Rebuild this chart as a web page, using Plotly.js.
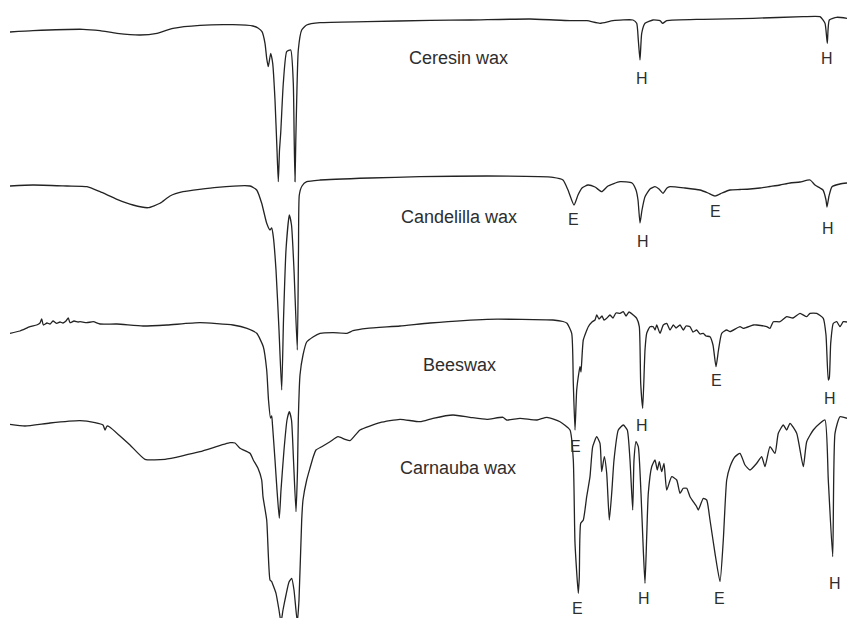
<!DOCTYPE html>
<html>
<head>
<meta charset="utf-8">
<script src="https://cdn.plot.ly/plotly-3.0.1.min.js"></script>
<style>html,body{margin:0;padding:0;background:#fff;}#chart{width:847px;height:618px;}</style>
</head>
<body>
<div id="chart"></div>
<script>
// Spectra (x: position along spectrum, y: trace level, downward = absorption)
const ceresinX = [10,33,83,100,117,140,157,173,200,233,253,258,262,265,266.7,268.3,270.7,272.7,275,277,278.3,279.5,280.7,283.3,286.7,290.7,293.3,294.2,295,295.8,296.7,298.3,301.7,306.7,320,367,430,470,530,570,587,600,613,633,636.7,638.3,640,641.7,645,653,660,662.7,666.7,703,753,803,820,825,827.3,829.3,836.7,847];
const ceresinY = [32,30.7,29.3,30.7,33.3,35,33.3,28.3,25.3,24.7,26,28,31.7,43.3,58.3,66.7,53.3,63.3,100,150,181.7,150,133.3,83.3,51.7,50,83.3,140,181.7,140,100,50,30,25,22.7,21.7,20.3,20,19,20.7,20.7,23.3,20.7,20,23.3,40,60,33.3,23.3,20,20.7,23.3,20.7,19.3,18.3,16.7,16.7,23.3,43.3,20,17.3,18.3];

const candelillaX = [10,33,67,87,100,117,133,148,160,170,183,217,250,256.7,261.7,266.7,270,271.7,273.3,276,279,281.7,283.5,286,289.3,291.5,294,297.3,298.5,299.3,302,306.7,320,370,420,487,553,563,568,574,578,582,588,595,601.7,608,620,632,636,638,640,642,645,650,655,659,663,667,670,685,700,708,715,722,730,740,750,760,770,780,790,800,810,815,820,823,826,827,829,832,840,847];
const candelillaY = [186,185,186,186.7,191.7,199.3,205,207.7,203.3,196,191.7,187.3,186,190,203.3,223.3,230,228,236.7,270,330,390,320,250,215,225,270,350,250,195,186,181.7,180,178,176.7,176,177.3,180,190,205,195,188,185,187,191.7,186,181.7,183,190,200,223,210,196.7,189,186.7,189,193.3,188,186.7,188,190,193,196,193,190,189.5,189,188,186.5,185,183,182,180,185,188,190,200,207,196,186.7,184,183];

const beeswaxX = [10,20,30,36.7,40,41.7,43.3,47,50,53,56.7,60,63,66,68.3,70,74,78,80,86.7,93.3,100,117,143,167,200,233,247,256.7,263.3,266.7,268.5,270.5,271.7,272.5,275,277,279.3,281,284,287,289.3,291.5,293.5,296,297.5,298.3,300,303,306.7,313,320,333,347,353,367,400,430,487,553,563,567,571.7,573.3,575,576.7,579,580,581,583.3,588.3,592,595,596.7,599,602,604,606.7,610,613,616,620,623.3,626,629,633.3,636.7,639.3,640.7,642.7,645,646.7,650,653.3,655,656.7,660,663.3,666.7,670,673.3,676,680,683.3,686,690,693,696.7,700,703.3,706,710,713,716,718.5,721.7,726.7,730,740,743.3,753.3,756.7,766.7,770,773.3,780,786.7,793,800,806.7,810,816.7,823.3,826,828.3,829.3,830.7,833.3,836.7,840,843.3,847];
const beeswaxY = [333.3,331,326.7,325,323,319,325,323,324,321,323.3,322,323,321,318,322.7,321,322,321.7,322.7,321.7,324,324,326,325,322.7,325,328.3,333.3,346.7,370,400,418,416,425,460,490,518.3,490,450,420,411.7,420,460,511.7,470,420,375,355,342,337,333.3,332.7,333.3,330.7,328.3,326,323,319.3,320,321.5,323.3,333.3,383.3,430,390,372,366.7,372,340,326.7,322,320,315,319,316,320,318.3,315,318,313,313.3,311.7,316,312,315,318.3,326.7,383.3,408.3,350,333.3,326.7,326.7,330,325,333.3,325,323.3,330,325,328,325,330,326,326.7,332,330,334,333.3,336,336.7,345,366.7,350,333.3,330,331.7,326.7,328.3,325,325,326.7,328.3,321.7,321.7,316.7,318,313.3,316.7,313.3,313.3,318.3,335,380,378,343.3,323.3,321.7,326.7,321.7,322];

const carnaubaX = [10,25,50,80,95,103,105,107,110,120,130,145,165,200,230,235,240,250,253.3,258,261.7,263,266.7,270,271.7,273,276,279,281,283,286,289,291.7,294,297.3,299,301.7,303,306.7,310,313.3,316,321.7,330,338,345,350,360,380,400,420,433,453,470,487,503,506.7,520,537,547,560,570,573.3,575,578.3,579.3,580.7,583.3,586.7,590,592.7,596.7,600,601.7,604.3,606.7,609.3,611.7,614,618.3,623.3,627.3,630,632.7,634,636,638.3,641,643.3,645,646.7,648.3,651.7,655,657.3,659.3,661.7,664,666.7,671.7,676.7,680,683.3,686.7,690,696.7,698.3,703.3,706.7,710,715,720,723.3,726.7,730,735,740,745,750,756.7,761.7,765,770,775,778.3,783.3,786.7,790,796.7,803.3,806.7,813.3,820,825,828.3,832.7,835,840,847];
const carnaubaY = [424.3,426,423,420.7,422.7,425,430,426,427.3,436,445,459.3,459.3,451.7,442.7,443,448.3,453.3,460,468.3,480,496.7,520,580,581.7,585,593.3,610,622,610,595,582,578.3,590,622,600,520,500,480,468,456.7,450,446.7,441.7,436.7,439.3,440.7,430,422.7,419.3,421.7,418.3,415,417.3,419.3,417.3,420,418.3,420,417.3,421.7,430,460,543.3,593.3,576.7,523.3,520,496.7,476.7,446.7,436.7,443.3,471.7,456.7,473.3,520,493.3,460,430,425,430,460,510,460,441.7,446.7,493.3,550,583.3,536.7,493.3,466.7,460,470,461.7,471.7,463.3,490,476.7,480,493.3,488.3,488.3,496.7,506.7,510,498.3,500,520,553.3,581.7,540,480,466.7,456.7,453.3,465,470,463.3,456.7,466.7,446.7,453.3,433.3,425,430,423.3,433.3,466.7,441.7,430,423.3,420,480,556.7,433.3,416.7,418.3];

// Sample names and band markers (E = ester, H = hydrocarbon)
const sampleNames = ["Ceresin wax","Candelilla wax","Beeswax","Carnauba wax"];
const bandText = ["H","H", "E","H","E","H", "E","H","E","H", "E","H","E","H"];

// ---- layout placement of the text (not data) ----
const nameAt = [[458,58],[459,217],[459,365],[458,468]];
const bandAt = [[641.7,78.3],[827.3,58.3],
                [573.7,219],[642.7,241.7],[715.7,211],[827.7,228.3],
                [575,446.7],[641.7,425],[716.7,380],[830,398.3],
                [577.3,608.3],[644.3,598.3],[719,598.3],[835,583.3]];

const lineStyle = {color:'#232323', width:1.3, shape:'spline', smoothing:0.5};
const series = [[ceresinX,ceresinY],[candelillaX,candelillaY],[beeswaxX,beeswaxY],[carnaubaX,carnaubaY]];
const traces = series.map((s,i)=>({x:s[0], y:s[1], type:'scatter', mode:'lines', name:sampleNames[i], line:lineStyle, hoverinfo:'skip'}));

const font = "'Liberation Sans', Arial, Helvetica, sans-serif";
const annotations = [];
sampleNames.forEach((t,i)=>annotations.push({x:nameAt[i][0], y:nameAt[i][1], xref:'x', yref:'y', text:t, showarrow:false, xanchor:'center', yanchor:'middle', font:{family:font, size:18, color:'#2e2e2e'}}));
bandText.forEach((t,i)=>annotations.push({x:bandAt[i][0], y:bandAt[i][1], xref:'x', yref:'y', text:t, showarrow:false, xanchor:'center', yanchor:'middle', font:{family:font, size:16, color:'#2e2e2e'}}));

const layout = {
  width:847, height:618,
  margin:{l:0,r:0,t:0,b:0,pad:0},
  paper_bgcolor:'#ffffff', plot_bgcolor:'#ffffff',
  showlegend:false,
  xaxis:{range:[0,847], visible:false, fixedrange:true},
  yaxis:{range:[618,0], visible:false, fixedrange:true},
  annotations:annotations
};
Plotly.newPlot('chart', traces, layout, {staticPlot:true, displayModeBar:false});
</script>
</body>
</html>
